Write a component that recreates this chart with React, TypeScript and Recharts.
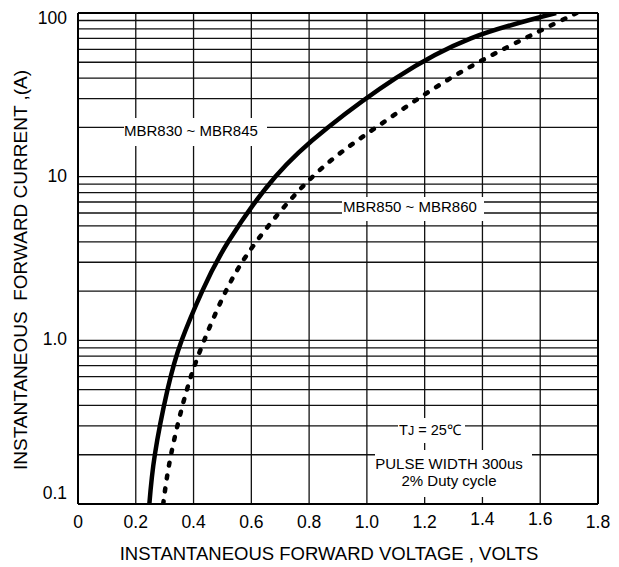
import { LineChart, Line, XAxis, YAxis, CartesianGrid, ReferenceLine } from "recharts";

// forward voltage (V) vs. instantaneous forward current (A)
const lowVoltageSeries = [
  { v: 0.247, i: 0.1 },
  { v: 0.266, i: 0.2 },
  { v: 0.31, i: 0.5 },
  { v: 0.359, i: 1.0 },
  { v: 0.43, i: 2 },
  { v: 0.52, i: 4 },
  { v: 0.683, i: 10 },
  { v: 0.865, i: 20 },
  { v: 1.1, i: 40 },
  { v: 1.36, i: 70 },
  { v: 1.655, i: 100 },
];

const highVoltageSeries = [
  { v: 0.295, i: 0.1 },
  { v: 0.322, i: 0.2 },
  { v: 0.377, i: 0.5 },
  { v: 0.437, i: 1.0 },
  { v: 0.512, i: 2 },
  { v: 0.617, i: 4 },
  { v: 0.812, i: 10 },
  { v: 1.032, i: 20 },
  { v: 1.29, i: 40 },
  { v: 1.547, i: 70 },
  { v: 1.726, i: 100 },
];

const voltTicks = [0, 0.2, 0.4, 0.6, 0.8, 1.0, 1.2, 1.4, 1.6, 1.8];

const currentTicks = [
  0.1, 0.2, 0.3, 0.4, 0.5, 0.6, 0.7, 0.8, 0.9,
  1, 2, 3, 4, 5, 6, 7, 8, 9,
  10, 20, 30, 40, 50, 60, 70, 80, 90,
  100,
];

const currentLabels: Record<string, string> = {
  "0.1": "0.1",
  "1": "1.0",
  "10": "10",
  "100": "100",
};

const FONT = "'Liberation Sans', Arial, sans-serif";

function XTick(props: any) {
  const { x, payload } = props;
  const v = payload.value;
  const label = v === 0 ? "0" : v.toFixed(1);
  const lift = v === 1.4 || v === 1.6 ? -3 : 0;
  return (
    <text x={x} y={528 + lift} textAnchor="middle" fontSize={17.5} fontFamily={FONT} fill="#000">
      {label}
    </text>
  );
}

function YTick(props: any) {
  const { y, payload } = props;
  const label = currentLabels[String(payload.value)];
  if (!label) return <g />;
  let dy = 5;
  if (payload.value === 100) dy = 11;
  if (payload.value === 0.1) dy = -5;
  return (
    <text x={67} y={y + dy} textAnchor="end" fontSize={17.5} fontFamily={FONT} fill="#000">
      {label}
    </text>
  );
}

function Notes() {
  const text = { fontFamily: FONT, fontSize: 15, fill: "#000" };
  return (
    <svg
      width={619}
      height={567}
      style={{ position: "absolute", left: 0, top: 0, pointerEvents: "none" }}
    >
      <rect x={124} y={118} width={143} height={28} fill="#fff" />
      <text x={124} y={135.5} {...text}>MBR830 ~ MBR845</text>

      <rect x={342} y={197} width={142} height={24} fill="#fff" />
      <text x={343} y={212.3} {...text}>MBR850 ~ MBR860</text>

      <rect x={398} y={418} width={67} height={25} fill="#fff" />
      <text x={430} y={435} textAnchor="middle" {...text} fontSize={14.5}>
        T<tspan fontSize={12.5}>J</tspan> = 25℃
      </text>

      <rect x={375} y={450} width={157} height={47} fill="#fff" />
      <text x={449} y={469.3} textAnchor="middle" {...text}>PULSE WIDTH 300us</text>
      <text x={449} y={486} textAnchor="middle" {...text}>2% Duty cycle</text>

      <text x={329} y={560} textAnchor="middle" {...text} fontSize={18.5}>
        INSTANTANEOUS FORWARD VOLTAGE , VOLTS
      </text>
      <text
        x={27}
        y={270}
        textAnchor="middle"
        transform="rotate(-90 27 270)"
        {...text}
        fontSize={19}
        style={{ whiteSpace: "pre" }}
      >
        {"INSTANTANEOUS  FORWARD CURRENT ,(A)"}
      </text>
    </svg>
  );
}

export default function App() {
  return (
    <div style={{ position: "absolute", left: 0, top: 0, width: 619, height: 567, background: "#fff" }}>
      <LineChart width={619} height={567} margin={{ top: 13, right: 21, bottom: 0, left: 0 }}>
        <CartesianGrid stroke="#111" strokeWidth={1.3} />
        <XAxis
          type="number"
          dataKey="v"
          domain={[0, 1.8]}
          ticks={voltTicks}
          interval={0}
          height={63}
          tickLine={false}
          axisLine={{ stroke: "#000", strokeWidth: 2 }}
          tick={<XTick />}
          allowDataOverflow
        />
        <YAxis
          type="number"
          scale="log"
          domain={[0.1, 100]}
          ticks={currentTicks}
          interval={0}
          width={78}
          tickLine={false}
          axisLine={{ stroke: "#000", strokeWidth: 2 }}
          tick={<YTick />}
          allowDataOverflow
        />
        <ReferenceLine y={100} stroke="#000" strokeWidth={2} />
        <ReferenceLine x={1.8} stroke="#000" strokeWidth={2} />
        <Line
          data={lowVoltageSeries}
          dataKey="i"
          type="natural"
          stroke="#000"
          strokeWidth={4.5}
          dot={false}
          isAnimationActive={false}
        />
        <Line
          data={highVoltageSeries}
          dataKey="i"
          type="natural"
          stroke="#000"
          strokeWidth={4.5}
          strokeDasharray="3 10"
          strokeLinecap="round"
          dot={false}
          isAnimationActive={false}
        />
      </LineChart>
      <Notes />
    </div>
  );
}
